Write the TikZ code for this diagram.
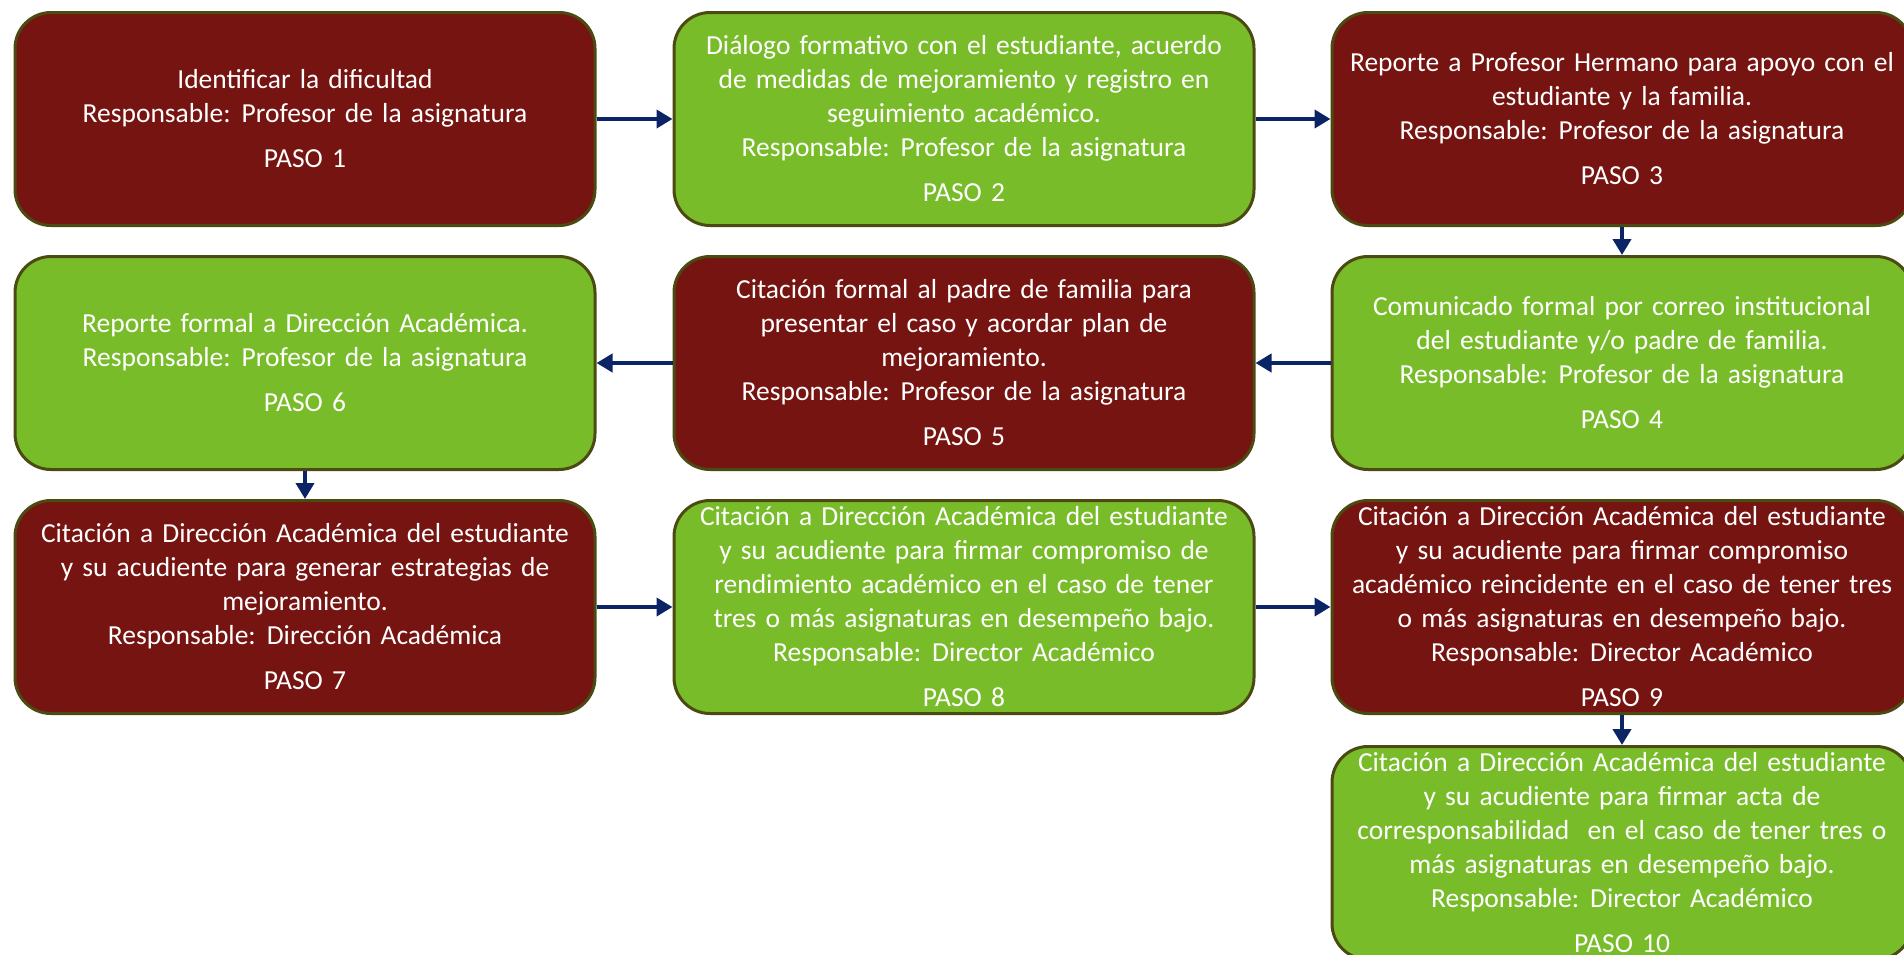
\documentclass[tikz,border=0pt]{standalone}
\usepackage{fontspec}
\setmainfont{Carlito}
\usetikzlibrary{arrows.meta}
\definecolor{boxred}{HTML}{761411}
\definecolor{boxgreen}{HTML}{79BC2A}
\definecolor{boxborder}{HTML}{4B4A12}
\definecolor{arrowblue}{HTML}{0B2466}
\tikzset{
  stepbase/.style={rectangle, rounded corners=36pt, draw=boxborder, line width=3pt,
    minimum width=580pt, minimum height=213pt, text width=570pt, align=center,
    text=white, font=\fontsize{27.5pt}{34pt}\selectfont, inner sep=0pt},
  redbox/.style={stepbase, fill=boxred},
  greenbox/.style={stepbase, fill=boxgreen},
  flow/.style={draw=arrowblue, line width=4pt, -{Triangle[length=16pt,width=18pt]}}
}
\newcommand{\resp}{Responsable:\hspace{0.4em}}
\newcommand{\paso}{\\[11pt]}
\begin{document}
\begin{tikzpicture}[x=1pt,y=-1pt]
\useasboundingbox (0,0) rectangle (1904,954);
\clip (0,0) rectangle (1904,954);
\node[redbox] (b1) at (305,119) {Identificar la dificultad\\\resp Profesor de la asignatura\paso PASO 1};
\node[greenbox] (b2) at (964,119) {Diálogo formativo con el estudiante, acuerdo\\de medidas de mejoramiento y registro en\\seguimiento académico.\\\resp Profesor de la asignatura\paso PASO 2};
\node[redbox] (b3) at (1622,119) {Reporte a Profesor Hermano para apoyo con el\\estudiante y la familia.\\\resp Profesor de la asignatura\paso PASO 3};
\node[greenbox] (b4) at (1622,363) {Comunicado formal por correo institucional\\del estudiante y/o padre de familia.\\\resp Profesor de la asignatura\paso PASO 4};
\node[redbox] (b5) at (964,363) {Citación formal al padre de familia para\\presentar el caso y acordar plan de\\mejoramiento.\\\resp Profesor de la asignatura\paso PASO 5};
\node[greenbox] (b6) at (305,363) {Reporte formal a Dirección Académica.\\\resp Profesor de la asignatura\paso PASO 6};
\node[redbox] (b7) at (305,607) {Citación a Dirección Académica del estudiante\\y su acudiente para generar estrategias de\\mejoramiento.\\\resp Dirección Académica\paso PASO 7};
\node[greenbox] (b8) at (964,607) {Citación a Dirección Académica del estudiante\\y su acudiente para firmar compromiso de\\rendimiento académico en el caso de tener\\tres o más asignaturas en desempeño bajo.\\\resp Director Académico\paso PASO 8};
\node[redbox] (b9) at (1622,607) {Citación a Dirección Académica del estudiante\\y su acudiente para firmar compromiso\\académico reincidente en el caso de tener tres\\o más asignaturas en desempeño bajo.\\\resp Director Académico\paso PASO 9};
\node[greenbox] (b10) at (1622,853) {Citación a Dirección Académica del estudiante\\y su acudiente para firmar acta de\\corresponsabilidad\ \ en el caso de tener tres o\\más asignaturas en desempeño bajo.\\\resp Director Académico\paso PASO 10};
\draw[flow] (b1) -- (b2);
\draw[flow] (b2) -- (b3);
\draw[flow] (b3) -- (b4);
\draw[flow] (b4) -- (b5);
\draw[flow] (b5) -- (b6);
\draw[flow] (b6) -- (b7);
\draw[flow] (b7) -- (b8);
\draw[flow] (b8) -- (b9);
\draw[flow] (b9) -- (b10);
\end{tikzpicture}
\end{document}
